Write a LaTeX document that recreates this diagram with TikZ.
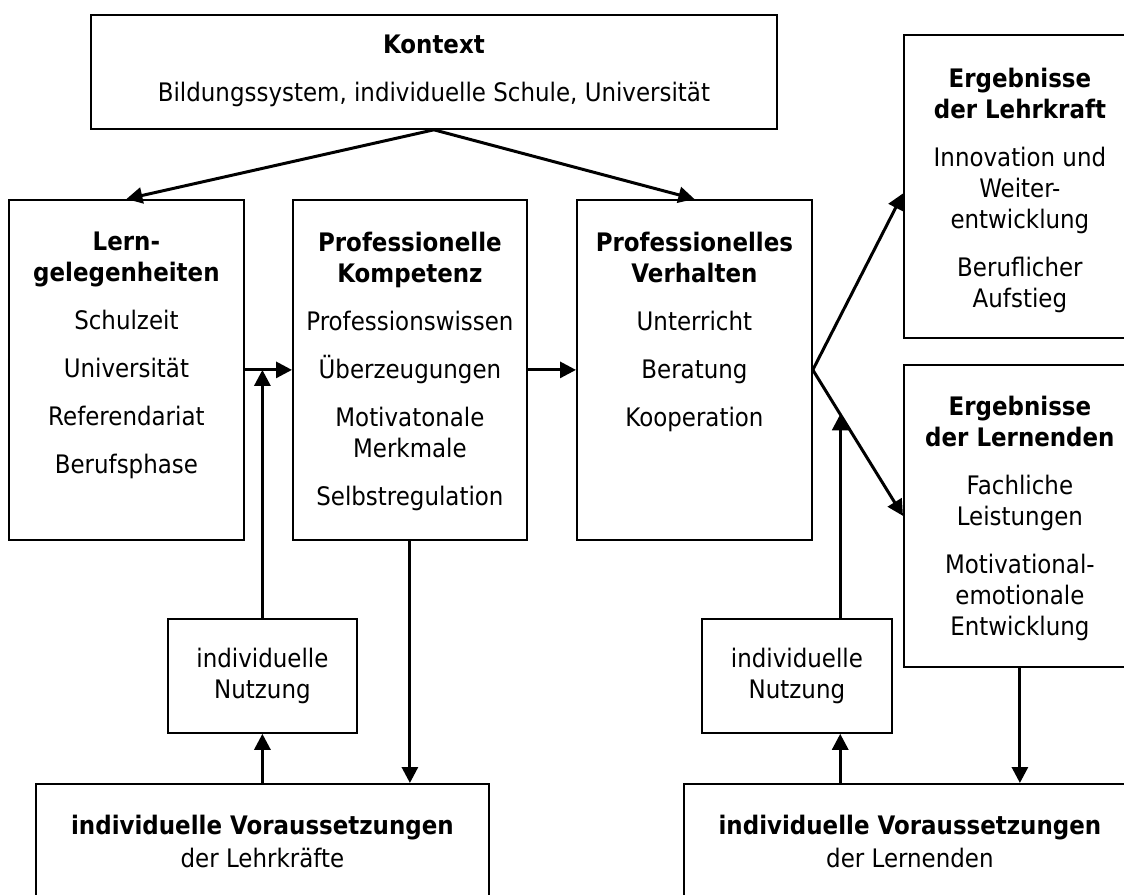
\documentclass[tikz,border=0pt]{standalone}
\usepackage{fontspec}
\setmainfont{DejaVu Sans}[FakeStretch=0.9]
\usetikzlibrary{positioning,calc,arrows.meta}

\begin{document}
\begin{tikzpicture}[x=1pt,y=-1pt,
  box/.style={draw,line width=1.8pt,inner sep=0pt,anchor=north west},
  txt/.style={inner sep=0pt,align=center,font=\fontsize{25.5}{31}\selectfont},
  usebox/.style={box,txt,minimum height=114pt},
  conn/.style={line width=3pt,-{Triangle[length=16pt,width=16pt]}}]
\useasboundingbox (0,0) rectangle (1124,894);
\clip (0,0) rectangle (1124,894);

% top box
\node[box,minimum width=686pt,minimum height=114pt] (kontext) at (90,14) {};
\node[txt,below=21pt of kontext.north] (kontexttxt)
  {\textbf{Kontext}\\[17pt]Bildungssystem, individuelle Schule, Universität};

% middle row
\node[box,minimum width=235pt,minimum height=340pt] (lern) at (8,199) {};
\node[txt,below=33pt of lern.north] (lerntxt)
  {\textbf{Lern-}\\\textbf{gelegenheiten}\\[17pt]Schulzeit\\[17pt]Universität\\[17pt]Referendariat\\[17pt]Berufsphase};
\node[box,minimum width=234pt,minimum height=340pt] (kompetenz) at (292,199) {};
\node[txt,below=33pt of kompetenz.north] (kompetenztxt)
  {\textbf{Professionelle}\\\textbf{Kompetenz}\\[17pt]Professionswissen\\[17pt]Überzeugungen\\[17pt]Motivatonale\\Merkmale\\[17pt]Selbstregulation};
\node[box,minimum width=235pt,minimum height=340pt] (verhalten) at (576,199) {};
\node[txt,below=33pt of verhalten.north] (verhaltentxt)
  {\textbf{Professionelles}\\\textbf{Verhalten}\\[17pt]Unterricht\\[17pt]Beratung\\[17pt]Kooperation};

% outcomes
\node[box,minimum width=232pt,minimum height=303pt] (lehrkraft) at (903,34) {};
\node[txt,below=34pt of lehrkraft.north] (lehrkrafttxt)
  {\textbf{Ergebnisse}\\\textbf{der Lehrkraft}\\[17pt]Innovation und\\Weiter-\\entwicklung\\[17pt]Beruflicher\\Aufstieg};
\node[box,minimum width=232pt,minimum height=302pt] (lernende) at (903,364) {};
\node[txt,below=32pt of lernende.north] (lernendetxt)
  {\textbf{Ergebnisse}\\\textbf{der Lernenden}\\[17pt]Fachliche\\Leistungen\\[17pt]Motivational-\\emotionale\\Entwicklung};

% use of opportunities
\node[usebox,minimum width=189pt] (nutzungL) at (167,618) {individuelle\\Nutzung};
\node[usebox,minimum width=190pt] (nutzungR) at (701,618) {individuelle\\Nutzung};

% individual prerequisites
\node[box,minimum width=453pt,minimum height=150pt] (vorausL) at (35,783) {};
\node[txt,below=32pt of vorausL.north] (vorausLtxt)
  {\textbf{individuelle Voraussetzungen}\\[2pt]der Lehrkräfte};
\node[box,minimum width=452pt,minimum height=150pt] (vorausR) at (683,783) {};
\node[txt,below=32pt of vorausR.north] (vorausRtxt)
  {\textbf{individuelle Voraussetzungen}\\[2pt]der Lernenden};

\draw[conn] (kontext.south) -- (lern.north);
\draw[conn] (kontext.south) -- (verhalten.north);
\draw[conn] (lern.east) -- (kompetenz.west);
\draw[conn] (kompetenz.east) -- (verhalten.west);
\draw[conn] (verhalten.east) -- ([yshift=-7pt]lehrkraft.west);
\draw[conn] (verhalten.east) -- (lernende.west);
\coordinate (hit) at ($(verhalten.east)!0.304!(lernende.west)$);
\draw[conn] (nutzungL.north) -- (nutzungL.north |- lern.east);
\draw[conn] (nutzungL.south |- vorausL.north) -- (nutzungL.south);
\draw[conn] (kompetenz.south) -- (kompetenz.south |- vorausL.north);
\draw[conn] (hit |- nutzungR.north) -- (hit);
\draw[conn] (hit |- vorausR.north) -- (hit |- nutzungR.south);
\draw[conn] (lernende.south) -- (lernende.south |- vorausR.north);
\end{tikzpicture}
\end{document}
